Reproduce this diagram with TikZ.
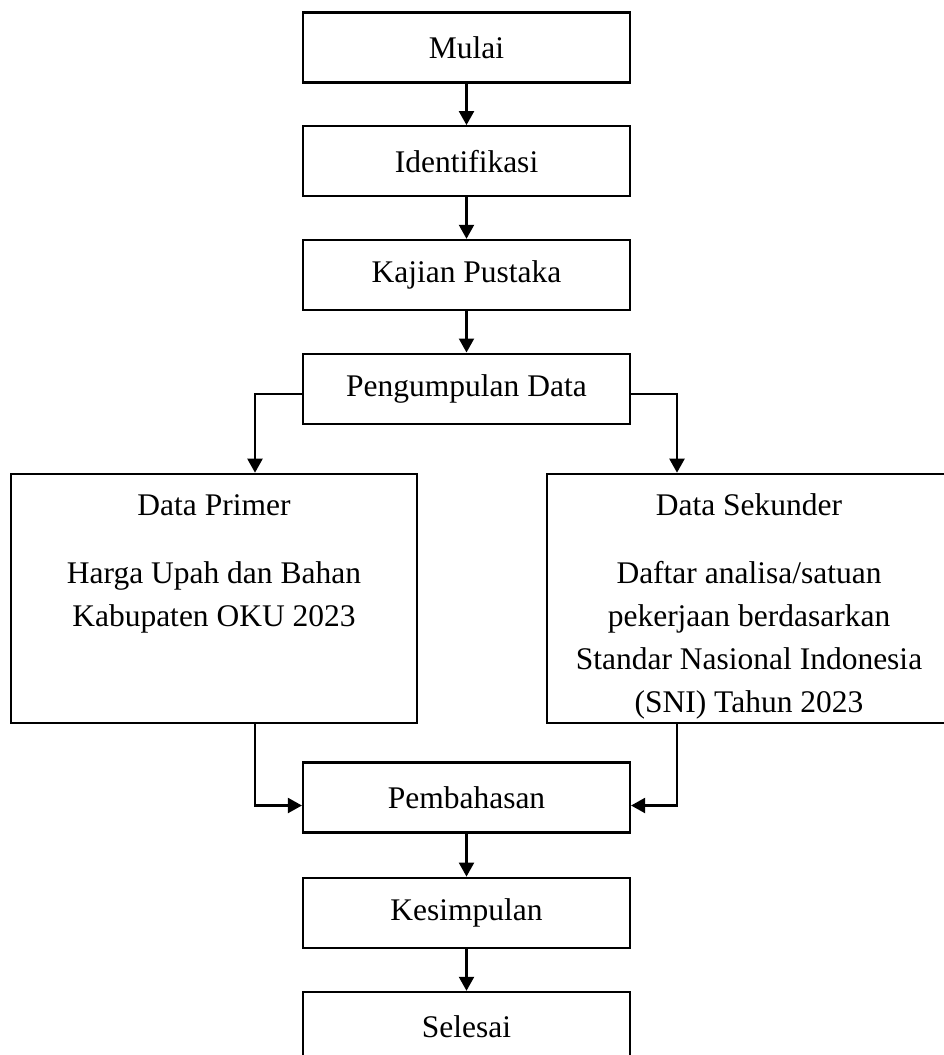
\documentclass[tikz,border=0pt]{standalone}
\usepackage{fontspec}
\setmainfont{Liberation Serif}
\usetikzlibrary{positioning, arrows.meta}
\tikzset{
->, % every connector gets a head
>={Triangle[width=15pt,length=14pt]}, % filled heads
node distance=41.5pt, % gap between the boxes of the middle column
every node/.style={font=\fontsize{31.5pt}{43pt}\selectfont},
stepbox/.style={draw, minimum width=327pt, minimum height=70pt, inner sep=0pt}, % one step of the flow
databox/.style={draw, minimum height=249pt, align=center, inner sep=0pt}, % the two data boxes
}
\begin{document}
\begin{tikzpicture}[line width=2.2pt]
        \useasboundingbox (0,0) rectangle (944pt,-1055pt);
        \node[stepbox] (mulai) at (466.5pt,-47.5pt) {Mulai};
        \node[stepbox, below=of mulai] (iden) {Identifikasi};
        \node[stepbox, below=of iden] (kajian) {Kajian Pustaka};
        \node[stepbox, below=of kajian] (kumpul) {Pengumpulan Data};
        \node[databox, minimum width=406pt, below=48pt of kumpul, xshift=-252.5pt] (primer)
            {\rule{0pt}{38pt}Data Primer\\[25pt] Harga Upah dan Bahan\\ Kabupaten OKU 2023\\ \mbox{}\\ \vphantom{(}};
        \node[databox, minimum width=404pt, below=48pt of kumpul, xshift=282.5pt] (sekunder)
            {\rule{0pt}{38pt}Data Sekunder\\[25pt] Daftar analisa/satuan\\ pekerjaan berdasarkan\\ Standar Nasional Indonesia\\ (SNI) Tahun 2023};
        \coordinate (mid) at (kumpul |- primer.south);
        \node[stepbox, below=37.5pt of mid] (bahas) {Pembahasan};
        \node[stepbox, below=43pt of bahas] (simpul) {Kesimpulan};
        \node[stepbox, below=42pt of simpul] (selesai) {Selesai};


        \draw (mulai) -- (iden);
        \draw (iden) -- (kajian);
        \draw (kajian) -- (kumpul);
        \draw ([yshift=-5pt]kumpul.west) -| ([xshift=41pt]primer.north);
        \draw ([yshift=-5pt]kumpul.east) -| ([xshift=-72pt]sekunder.north);
        \draw ([xshift=41pt]primer.south) |- ([yshift=-8pt]bahas.west);
        \draw ([xshift=-72pt]sekunder.south) |- ([yshift=-8pt]bahas.east);
        \draw (bahas) -- (simpul);
        \draw (simpul) -- (selesai);
      \end{tikzpicture}
\end{document}
